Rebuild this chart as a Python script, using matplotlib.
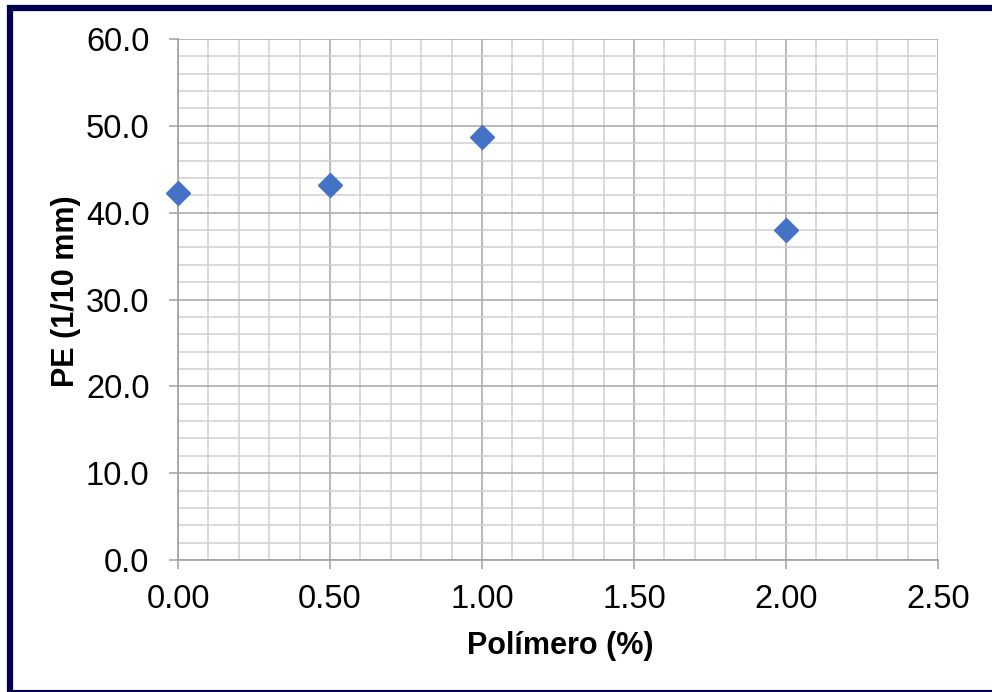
import matplotlib.pyplot as plt
from matplotlib.lines import Line2D
from matplotlib.ticker import MultipleLocator, FormatStrFormatter

plt.rcParams['font.family'] = ['Liberation Sans', 'DejaVu Sans']

# polymer content vs penetration
polimero = [0.0, 0.5, 1.0, 2.0]
pe = [42.3, 43.2, 48.7, 38.0]

fig = plt.figure(figsize=(9.92, 6.92), dpi=100)
ax = fig.add_axes([178 / 992, 1 - 560 / 692, 760 / 992, 521 / 692])

ax.plot(polimero, pe, linestyle='none', marker='D', markersize=12.2,
        color='#4472C4', zorder=3, clip_on=False)

ax.set_xlim(0, 2.5)
ax.set_ylim(0, 60)
ax.xaxis.set_major_locator(MultipleLocator(0.5))
ax.xaxis.set_minor_locator(MultipleLocator(0.1))
ax.yaxis.set_major_locator(MultipleLocator(10))
ax.yaxis.set_minor_locator(MultipleLocator(2))
ax.xaxis.set_major_formatter(FormatStrFormatter('%.2f'))
ax.yaxis.set_major_formatter(FormatStrFormatter('%.1f'))

ax.grid(which='major', color='#a6a6a6', linewidth=1.1)
ax.grid(which='minor', color='#d0d0d0', linewidth=1.1)
ax.set_axisbelow(True)

for side in ['top', 'right']:
    ax.spines[side].set_visible(False)
for side in ['left', 'bottom']:
    ax.spines[side].set_color('#a0a0a0')
    ax.spines[side].set_linewidth(1.2)

ax.tick_params(which='major', length=6.5, width=1.1, color='#a0a0a0',
               labelsize=23.5)
ax.tick_params(axis='y', which='major', pad=14)
ax.tick_params(axis='x', which='major', pad=11)
ax.tick_params(which='minor', length=0)

ax.set_xlabel('Polímero (%)', fontsize=22, fontweight='bold', va='center')
ax.set_ylabel('PE (1/10 mm)', fontsize=22, fontweight='bold', va='center')
ax.xaxis.set_label_coords(0.503, -86 / 521)
ax.yaxis.set_label_coords(-112 / 760, 269 / 521)

# dark frame around the chart
frame = '#00004f'
fig.add_artist(Line2D([10 / 992, 10 / 992], [0, 1 - 5 / 692], transform=fig.transFigure,
                      color=frame, linewidth=4.5, solid_capstyle='butt'))
fig.add_artist(Line2D([7 / 992, 1], [1 - 8 / 692, 1 - 8 / 692], transform=fig.transFigure,
                      color=frame, linewidth=4.5, solid_capstyle='butt'))
fig.add_artist(Line2D([7 / 992, 1], [1.2 / 692, 1.2 / 692], transform=fig.transFigure,
                      color=frame, linewidth=1.5, solid_capstyle='butt'))

fig.savefig('out.png', dpi=100)
